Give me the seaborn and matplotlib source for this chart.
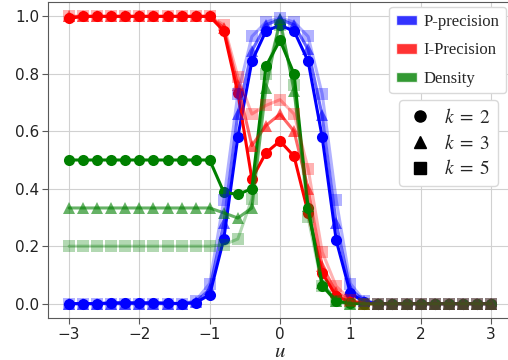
import numpy as np
import pandas as pd
import matplotlib
matplotlib.use('Agg')
import matplotlib.pyplot as plt
from matplotlib.patches import Patch
from matplotlib.lines import Line2D
import seaborn as sns

u = [-3.0, -2.8, -2.6, -2.4, -2.2, -2.0, -1.8, -1.6, -1.4, -1.2,
     -1.0, -0.8, -0.6, -0.4, -0.2, 0.0, 0.2, 0.4, 0.6, 0.8,
     1.0, 1.2, 1.4, 1.6, 1.8, 2.0, 2.2, 2.4, 2.6, 2.8, 3.0]

# P-precision
p_k2 = [0, 0, 0, 0.003, 0.003, 0.003, 0.003, 0.002, 0, 0.003,
        0.031, 0.225, 0.58, 0.844, 0.949, 0.969, 0.949, 0.844, 0.58, 0.22,
        0.037, 0.005, 0, 0, 0, 0, 0, 0, 0, 0, 0]
p_k3 = [0, 0, 0, 0, 0, 0, 0, 0, 0, 0.005,
        0.05, 0.28, 0.66, 0.88, 0.97, 0.99, 0.97, 0.885, 0.655, 0.28,
        0.05, 0.01, 0, 0, 0, 0, 0, 0, 0, 0, 0]
p_k5 = [0, 0, 0, 0, 0, 0, 0, 0, 0, 0.01,
        0.07, 0.36, 0.73, 0.93, 0.98, 0.995, 0.98, 0.93, 0.73, 0.36,
        0.07, 0.01, 0, 0, 0, 0, 0, 0, 0, 0, 0]

# I-Precision
i_k2 = [0.993, 1, 1, 1, 1, 1, 1, 1, 1, 1,
        1, 0.949, 0.734, 0.434, 0.525, 0.566, 0.513, 0.316, 0.107, 0.026,
        0.005, 0, 0, 0, 0, 0, 0, 0, 0, 0, 0]
i_k3 = [1, 1, 1, 1, 1, 1, 1, 1, 1, 1,
        1, 0.96, 0.76, 0.55, 0.62, 0.66, 0.60, 0.40, 0.13, 0.04,
        0.01, 0, 0, 0, 0, 0, 0, 0, 0, 0, 0]
i_k5 = [1, 1, 1, 1, 1, 1, 1, 1, 1, 1,
        1, 0.97, 0.79, 0.66, 0.69, 0.71, 0.66, 0.47, 0.18, 0.06,
        0.014, 0, 0, 0, 0, 0, 0, 0, 0, 0, 0]

# Density
d_k2 = [0.5, 0.5, 0.5, 0.5, 0.5, 0.5, 0.5, 0.5, 0.5, 0.5,
        0.5, 0.388, 0.38, 0.40, 0.827, 0.917, 0.80, 0.333, 0.063, 0.008,
        0.002, 0, 0, 0, 0, 0, 0, 0, 0, 0, 0]
d_k3 = [0.333, 0.333, 0.333, 0.333, 0.333, 0.333, 0.333, 0.333, 0.333, 0.333,
        0.333, 0.316, 0.298, 0.333, 0.751, 0.99, 0.74, 0.34, 0.072, 0.008,
        0, 0, 0, 0, 0, 0, 0, 0, 0, 0, 0]
d_k5 = [0.2, 0.2, 0.2, 0.2, 0.2, 0.2, 0.2, 0.2, 0.2, 0.2,
        0.2, 0.205, 0.225, 0.365, 0.80, 0.97, 0.76, 0.30, 0.06, 0.008,
        0, 0, 0, 0, 0, 0, 0, 0, 0, 0, 0]

metrics = ['P-precision', 'I-Precision', 'Density']
colors = ['blue', 'red', 'green']
ks = [2, 3, 5]
markers = ['o', '^', 's']
alphas = [1.0, 0.6, 0.3]
series = {2: [p_k2, i_k2, d_k2], 3: [p_k3, i_k3, d_k3], 5: [p_k5, i_k5, d_k5]}

rows = []
for k in ks:
    for m, vals in zip(metrics, series[k]):
        for x, y in zip(u, vals):
            rows.append({'u': x, 'value': y, 'metric': m, 'k': k})
df = pd.DataFrame(rows)

sns.set_style("whitegrid", {'axes.edgecolor': '.35', 'xtick.bottom': True, 'ytick.left': True,
                            'grid.color': '.82'})
plt.rcParams['mathtext.fontset'] = 'stix'

fig = plt.figure(figsize=(5.08, 3.60), dpi=100)
ax = fig.add_axes([48/508, 42/360, 464/508, 316/360])

for k, mk, a in zip(ks, markers, alphas):
    for m, c in zip(metrics, colors):
        sub = df[(df['k'] == k) & (df['metric'] == m)]
        sns.lineplot(data=sub, x='u', y='value', ax=ax, color=c, marker=mk, alpha=a,
                     linewidth=2.2, markersize=8, markeredgecolor=c, markeredgewidth=0)

ax.set_xlim(-3.3, 3.3)
ax.set_ylim(-0.05, 1.05)
ax.set_xticks([-3, -2, -1, 0, 1, 2, 3])
ax.set_yticks([0.0, 0.2, 0.4, 0.6, 0.8, 1.0])
ax.tick_params(labelsize=11, length=4, pad=2.5, color='.35', labelcolor='#222222')
ax.set_xlabel('$u$', fontsize=15)
ax.xaxis.set_label_coords(0.5, -0.105)
ax.xaxis.label.set_va('center')
ax.set_ylabel('')

color_handles = [Patch(facecolor=c, alpha=0.8, label=m) for m, c in zip(metrics, colors)]
leg1 = ax.legend(handles=color_handles, loc='upper right', bbox_to_anchor=(0.987, 0.984),
                 borderaxespad=0, fancybox=True, framealpha=1, edgecolor='.85',
                 prop={'family': 'Liberation Serif', 'size': 12},
                 handlelength=1.25, handleheight=0.6, handletextpad=0.4, labelspacing=0.75)
ax.add_artist(leg1)

k_handles = [Line2D([], [], color='black', marker=mk, linestyle='none', markersize=8,
                    label=f'$k\\;=\\;{k}$') for k, mk in zip(ks, markers)]
ax.legend(handles=k_handles, loc='upper right', bbox_to_anchor=(0.970, 0.690),
          borderaxespad=0, fancybox=True, framealpha=1, edgecolor='.85',
          fontsize=14, handlelength=1.4, labelspacing=0.35, handletextpad=0.5)

fig.savefig('out.png', dpi=100)
